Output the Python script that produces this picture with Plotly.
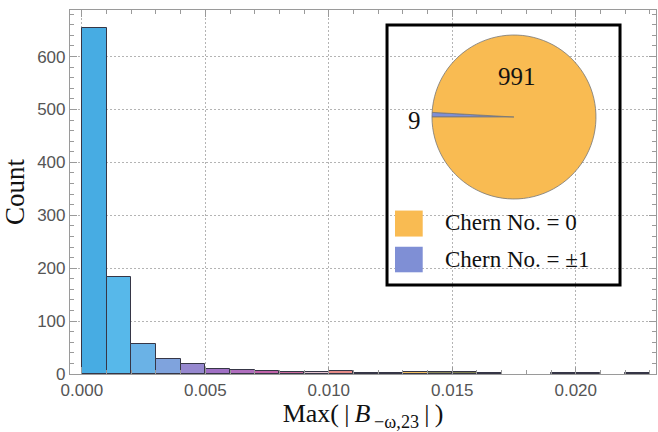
import plotly.graph_objects as go

# ---- data ----
bin_starts = [0.000, 0.001, 0.002, 0.003, 0.004, 0.005, 0.006, 0.007, 0.008, 0.009,
              0.010, 0.011, 0.012, 0.013, 0.014, 0.015, 0.016, 0.019, 0.020, 0.022]
counts = [654, 183, 57, 28, 19, 10, 8, 6, 4, 3,
          6, 2, 2, 4, 3, 3, 2, 1, 1, 1]
bin_width = 0.001

pie_labels = ["Chern No. = ±1", "Chern No. = 0"]
pie_values = [9, 991]

x_title = ("Max(\u2009|\u2009<i>B</i><sub>\u2009−ω,23</sub>"
           "\u2009|\u2009)")
y_title = "Count"

# ---- styles ----
bar_colors = ["#47ACE3", "#57B8EA", "#6AB2E6", "#7FA3DD", "#9688CF", "#A070C4",
              "#B06EBE", "#C062A8", "#CC6C9E", "#E6C6D2", "#E48A86", "#8C6E5A",
              "#7A6E58", "#F2C060", "#8A8658", "#7E7E50", "#80804E", "#6E6E6E",
              "#6E6E6E", "#6E6E6E"]
pie_colors = ["#7F8FD5", "#F9BB52"]
serif = "Liberation Serif"
sans = "Liberation Sans"

fig = go.Figure()
fig.add_trace(go.Bar(
    x=[s + bin_width / 2 for s in bin_starts], y=counts, width=bin_width,
    marker=dict(color=bar_colors, line=dict(color="#363646", width=1)),
    showlegend=False, hoverinfo="x+y"))

fig.add_trace(go.Pie(
    labels=pie_labels, values=pie_values, sort=False,
    direction="counterclockwise", rotation=270,
    marker=dict(colors=pie_colors, line=dict(color="#777777", width=0.8)),
    textinfo="none", showlegend=False,
    domain=dict(x=[0.6177, 0.8976], y=[0.4808, 0.9313])))

axis_common = dict(
    showline=True, linecolor="#9a9a9a", linewidth=1.2, mirror="allticks",
    ticks="inside", ticklen=7, tickcolor="#9a9a9a", tickwidth=1,
    showgrid=True, gridcolor="#b4b4b4", griddash="1.5px,2.5px", gridwidth=1.2,
    zeroline=False,
    tickfont=dict(family=sans, size=17, color="#555555"),
)

fig.update_xaxes(**axis_common, range=[-0.00048, 0.02325], dtick=0.005, tick0=0,
                 tickformat=".3f",
                 minor=dict(dtick=0.001, ticklen=4, ticks="inside", tickcolor="#9a9a9a",
                            showgrid=False),
                 title=dict(text=x_title, font=dict(family=serif, size=26, color="#111111"),
                            standoff=4))
fig.update_yaxes(**axis_common, range=[0, 688], dtick=100, tick0=0,
                 minor=dict(dtick=20, ticklen=4, ticks="inside", tickcolor="#9a9a9a",
                            showgrid=False),
                 title=dict(text=y_title, font=dict(family=serif, size=27, color="#111111"),
                            standoff=8))

# inset frame
fig.add_shape(type="rect", xref="paper", yref="paper",
              x0=0.541, x1=0.9386, y0=0.2445, y1=0.9588,
              line=dict(color="black", width=3), fillcolor="rgba(0,0,0,0)", layer="above")

# legend swatches
fig.add_shape(type="rect", xref="paper", yref="paper",
              x0=0.5546, x1=0.6019, y0=0.3776, y1=0.4490,
              line=dict(width=0), fillcolor=pie_colors[1], layer="above")
fig.add_shape(type="rect", xref="paper", yref="paper",
              x0=0.5546, x1=0.6019, y0=0.2794, y1=0.3496,
              line=dict(width=0), fillcolor=pie_colors[0], layer="above")

annots = [
    dict(x=0.6357, y=0.4162, text=pie_labels[1], xanchor="left", size=23),
    dict(x=0.6357, y=0.3157, text=pie_labels[0], xanchor="left", size=23),
    dict(x=0.7622, y=0.8168, text=str(pie_values[1]), xanchor="center", size=25),
    dict(x=0.5887, y=0.6958, text=str(pie_values[0]), xanchor="center", size=25),
]
for a in annots:
    size = a.pop("size")
    fig.add_annotation(xref="paper", yref="paper", yanchor="middle", showarrow=False,
                       font=dict(family=serif, size=size, color="#111111"), **a)

fig.update_layout(
    width=658, height=432,
    margin=dict(l=70, r=2, t=10, b=58),
    plot_bgcolor="white", paper_bgcolor="white",
    bargap=0,
)

fig.write_html("out.html", config={"displayModeBar": False},
               post_script="document.body.style.margin='0';document.body.style.overflow='hidden';")
